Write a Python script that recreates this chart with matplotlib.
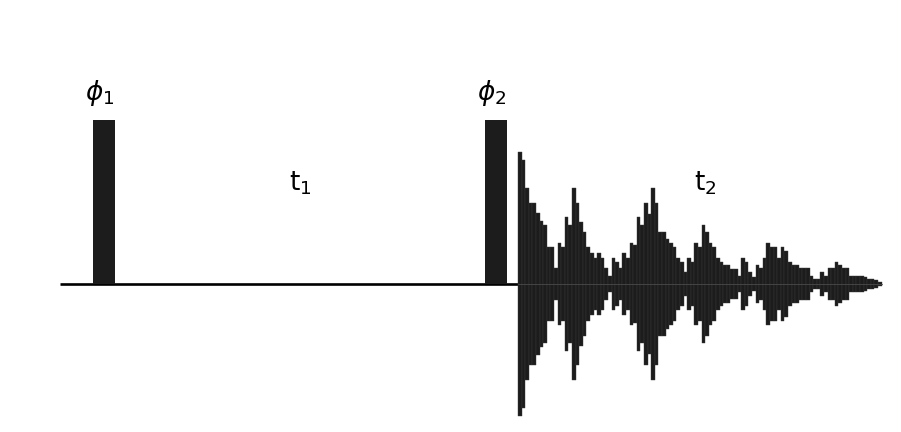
import numpy as np
import matplotlib
matplotlib.use("Agg")
import matplotlib.pyplot as plt
from matplotlib.patches import Rectangle

plt.rcParams["mathtext.fontset"] = "dejavusans"
plt.rcParams["font.family"] = ["Liberation Sans", "DejaVu Sans"]

# Timeline (horizontal units) of the two-pulse experiment
line_start, line_end = 60, 518
pulse_starts = [93, 485]
pulse_width = 22
pulse_height = 164
pulse_labels = [r"$\phi_1$", r"$\phi_2$"]
delay_labels = [r"$\mathrm{t}_1$", r"$\mathrm{t}_2$"]

# Free induction decay: envelope amplitude of each acquisition step
fid_start = 518
fid_step = 3.6
fid_amp = [
    132, 124, 96, 81, 81, 71, 63, 59, 37, 37, 16, 41, 37, 67, 59, 96, 81, 62,
    52, 37, 31, 26, 31, 26, 16, 8, 26, 22, 16, 31, 26, 41, 39, 67, 59, 81, 70,
    96, 81, 52, 52, 45, 41, 37, 26, 22, 12, 26, 22, 41, 37, 59, 52, 41, 37, 26,
    22, 19, 19, 15, 15, 8, 26, 22, 12, 7, 19, 16, 26, 41, 37, 37, 26, 37, 33,
    22, 19, 19, 16, 16, 16, 8, 5, 5, 12, 8, 16, 16, 22, 19, 16, 16, 8, 8, 8, 8,
    7, 5, 5, 4, 2,
]

fig = plt.figure(figsize=(9.01, 4.32), dpi=100)
ax = fig.add_axes([0, 0, 1, 1])
ax.set_xlim(0, 901)
ax.set_ylim(-148, 284)
ax.axis("off")

ink = "#1c1c1c"

# baseline
ax.plot([line_start, line_end], [0, 0], color="black", lw=1.9,
        solid_capstyle="butt", zorder=2)

# pulses
for x0, lab in zip(pulse_starts, pulse_labels):
    ax.add_patch(Rectangle((x0, 0), pulse_width, pulse_height,
                           facecolor=ink, edgecolor="none", zorder=3))
    ax.text(x0 + pulse_width / 2 - 4, pulse_height + 12, lab, fontsize=19,
            ha="center", va="bottom", color="black")

# FID bars, symmetric about the baseline
amp = np.array(fid_amp, dtype=float)
xs = fid_start + fid_step * np.arange(len(amp))
ax.bar(xs, 2 * amp, bottom=-amp, width=fid_step, align="edge",
       color=ink, edgecolor="#3a3a3a", linewidth=0.3, zorder=3)
ax.plot([fid_start, xs[-1] + fid_step], [0, 0], color="#4a4a4a", lw=0.6,
        zorder=4)

# delay labels
ax.text(300, 284 - 183, delay_labels[0], fontsize=19, ha="center",
        va="center", color="black")
ax.text(705, 284 - 183, delay_labels[1], fontsize=19, ha="center",
        va="center", color="black")

fig.savefig("out.png", dpi=100, facecolor="white")
